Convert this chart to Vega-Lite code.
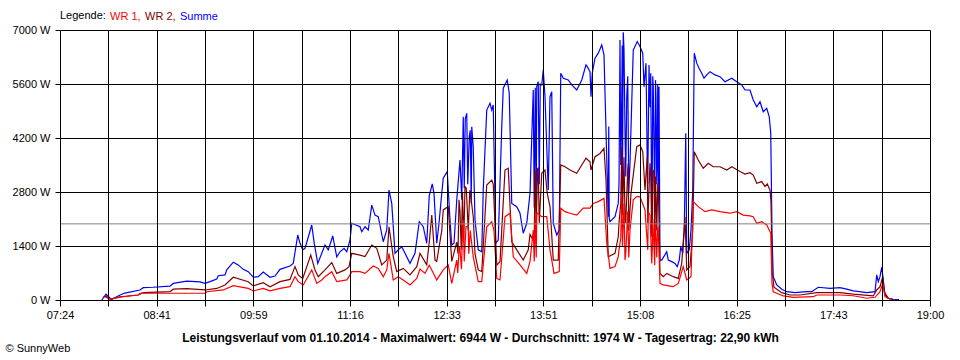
{
  "$schema": "https://vega.github.io/schema/vega-lite/v6.json",
  "width": 870,
  "height": 270,
  "autosize": {"type": "none"},
  "padding": {"left": 60, "top": 30, "right": 30, "bottom": 60},
  "background": "white",
  "config": {"view": {"stroke": null}, "font": "Liberation Sans"},
  "datasets": {
    "summe": [
      {"t":477.4,"p":0},{"t":480.8,"p":150},{"t":485.4,"p":10},{"t":492,"p":130},{"t":496,"p":180},{"t":508,"p":260},{"t":510.6,"p":320},{"t":518.4,"p":330},{"t":532,"p":360},{"t":534.6,"p":430},{"t":545.4,"p":490},{"t":556,"p":470},{"t":560,"p":430},{"t":564,"p":475},{"t":569.4,"p":545},{"t":570.6,"p":630},{"t":576,"p":650},{"t":577.4,"p":780},{"t":582.6,"p":980},{"t":586.6,"p":910},{"t":590.6,"p":795},{"t":594.6,"p":735},{"t":598.6,"p":590},{"t":602.6,"p":605},{"t":606.6,"p":725},{"t":612,"p":590},{"t":616,"p":620},{"t":620,"p":795},{"t":628,"p":880},{"t":630.6,"p":950},{"t":634.2,"p":1685},{"t":636,"p":1470},{"t":638.2,"p":1300},{"t":640,"p":1340},{"t":645.4,"p":1945},{"t":647.4,"p":1470},{"t":650.2,"p":950},{"t":653.4,"p":1210},{"t":656,"p":1425},{"t":658.6,"p":1300},{"t":662.2,"p":1660},{"t":665.4,"p":1120},{"t":668,"p":1250},{"t":671.2,"p":1340},{"t":673.4,"p":1250},{"t":676,"p":1555},{"t":677.4,"p":1990},{"t":684,"p":1900},{"t":685.4,"p":1770},{"t":688,"p":1900},{"t":690.6,"p":1815},{"t":693.4,"p":2460},{"t":696,"p":2200},{"t":698.6,"p":2160},{"t":702.6,"p":1510},{"t":705.4,"p":1815},{"t":707.2,"p":2850},{"t":709.4,"p":2505},{"t":712,"p":1210},{"t":714.6,"p":1300},{"t":717.4,"p":1380},{"t":720,"p":1210},{"t":724,"p":950},{"t":728,"p":1210},{"t":731.4,"p":2030},{"t":734.6,"p":1900},{"t":737.4,"p":1470},{"t":739.4,"p":2700},{"t":741.8,"p":3010},{"t":743.2,"p":2765},{"t":745.4,"p":1470},{"t":747.2,"p":1990},{"t":749.4,"p":2765},{"t":750.6,"p":3155},{"t":753.8,"p":3330},{"t":756,"p":2075},{"t":757.4,"p":1425},{"t":759.2,"p":1470},{"t":761.4,"p":2590},{"t":764,"p":3630},{"t":765.4,"p":2600},{"t":766.6,"p":4750},{"t":767.4,"p":2900},{"t":768.2,"p":4700},{"t":769.4,"p":4840},{"t":770.2,"p":3000},{"t":771.4,"p":4235},{"t":772.2,"p":4400},{"t":773,"p":2500},{"t":773.4,"p":4490},{"t":774.6,"p":3975},{"t":776,"p":2075},{"t":778.6,"p":1300},{"t":781.4,"p":1250},{"t":782.6,"p":2850},{"t":785.4,"p":4925},{"t":788,"p":5100},{"t":789.4,"p":4925},{"t":790.6,"p":5055},{"t":792.6,"p":1470},{"t":794.6,"p":1555},{"t":797.4,"p":4490},{"t":798.6,"p":5490},{"t":801.8,"p":5705},{"t":803.4,"p":5360},{"t":805.4,"p":2505},{"t":809.4,"p":2420},{"t":812,"p":2250},{"t":814.6,"p":1730},{"t":817.4,"p":1990},{"t":820,"p":2765},{"t":822.6,"p":5445},{"t":823.4,"p":2400},{"t":824.2,"p":5500},{"t":825,"p":2600},{"t":825.4,"p":5530},{"t":826,"p":5600},{"t":826.6,"p":5660},{"t":827.4,"p":3000},{"t":828.2,"p":5600},{"t":829.4,"p":5575},{"t":830.6,"p":5965},{"t":832,"p":5270},{"t":834.6,"p":2850},{"t":836,"p":5270},{"t":837.4,"p":5400},{"t":838.6,"p":1990},{"t":841.4,"p":1685},{"t":843.4,"p":1815},{"t":844.6,"p":5880},{"t":846.6,"p":5750},{"t":850.6,"p":5705},{"t":853.4,"p":5575},{"t":857.4,"p":5445},{"t":861.4,"p":5705},{"t":864.8,"p":6095},{"t":865.8,"p":6050},{"t":868,"p":5920},{"t":868.8,"p":5270},{"t":869.8,"p":5880},{"t":872,"p":6270},{"t":874.6,"p":6400},{"t":877.4,"p":6610},{"t":879.2,"p":6355},{"t":880.8,"p":4410},{"t":882.6,"p":2160},{"t":883,"p":4500},{"t":883.4,"p":2100},{"t":884,"p":2030},{"t":888,"p":2160},{"t":890.6,"p":2505},{"t":891.2,"p":3000},{"t":892,"p":6740},{"t":892.6,"p":3500},{"t":893.4,"p":5270},{"t":893.8,"p":6600},{"t":894,"p":3000},{"t":894.6,"p":6944},{"t":895.2,"p":6500},{"t":896,"p":4410},{"t":896.6,"p":3200},{"t":897.4,"p":5270},{"t":898.2,"p":5800},{"t":899,"p":2800},{"t":900,"p":3545},{"t":902.6,"p":6480},{"t":905.8,"p":6700},{"t":908,"p":6570},{"t":910.2,"p":6400},{"t":911.2,"p":5530},{"t":912.8,"p":6140},{"t":913.8,"p":3545},{"t":914.2,"p":3000},{"t":915.2,"p":6095},{"t":916,"p":5000},{"t":916.6,"p":5880},{"t":917.4,"p":1815},{"t":917.8,"p":3000},{"t":918.2,"p":5800},{"t":918.6,"p":5530},{"t":919.2,"p":3975},{"t":919.8,"p":2500},{"t":920.4,"p":5700},{"t":920.8,"p":5270},{"t":921.4,"p":3000},{"t":921.8,"p":3545},{"t":922.2,"p":5600},{"t":922.8,"p":2600},{"t":923.2,"p":5530},{"t":924,"p":1035},{"t":925.4,"p":1035},{"t":929.4,"p":1250},{"t":930.6,"p":1035},{"t":933.4,"p":995},{"t":936,"p":950},{"t":937.8,"p":865},{"t":939.4,"p":1035},{"t":940.6,"p":1380},{"t":942.2,"p":1210},{"t":943.4,"p":1815},{"t":944.6,"p":4320},{"t":945.4,"p":1210},{"t":947.4,"p":1300},{"t":948.8,"p":1815},{"t":950.2,"p":2850},{"t":951.4,"p":6400},{"t":953.4,"p":6140},{"t":955.2,"p":6010},{"t":957.4,"p":5880},{"t":959.2,"p":5750},{"t":961.4,"p":5835},{"t":964,"p":5920},{"t":968,"p":5835},{"t":972,"p":5790},{"t":976,"p":5660},{"t":981.4,"p":5750},{"t":985.4,"p":5660},{"t":989.4,"p":5575},{"t":992,"p":5445},{"t":996,"p":5445},{"t":998.6,"p":5185},{"t":1001.4,"p":5010},{"t":1004,"p":5140},{"t":1006.6,"p":4880},{"t":1009.4,"p":4970},{"t":1011.4,"p":4750},{"t":1012.6,"p":4320},{"t":1013.6,"p":1730},{"t":1014.6,"p":605},{"t":1017.4,"p":390},{"t":1021.4,"p":280},{"t":1025.4,"p":215},{"t":1032,"p":190},{"t":1041.4,"p":215},{"t":1045.4,"p":215},{"t":1050.6,"p":330},{"t":1060,"p":300},{"t":1068,"p":320},{"t":1073.4,"p":280},{"t":1078.6,"p":235},{"t":1089.4,"p":190},{"t":1096,"p":215},{"t":1097.4,"p":650},{"t":1098.6,"p":475},{"t":1100,"p":605},{"t":1101.4,"p":850},{"t":1102.6,"p":520},{"t":1104,"p":130},{"t":1106.6,"p":45},{"t":1110.6,"p":20},{"t":1115.2,"p":10}
    ],
    "wr2": [
      {"t":478.6,"p":70},{"t":480.8,"p":105},{"t":484,"p":25},{"t":492,"p":85},{"t":506.6,"p":130},{"t":510.6,"p":190},{"t":532,"p":215},{"t":534.6,"p":280},{"t":545.4,"p":295},{"t":560,"p":260},{"t":569.4,"p":300},{"t":576,"p":390},{"t":582.6,"p":590},{"t":594.6,"p":475},{"t":598.6,"p":365},{"t":606.6,"p":450},{"t":612,"p":345},{"t":620,"p":475},{"t":628,"p":535},{"t":632,"p":865},{"t":634.6,"p":650},{"t":638.2,"p":560},{"t":644.6,"p":1165},{"t":648,"p":780},{"t":650.6,"p":605},{"t":656,"p":780},{"t":661.4,"p":970},{"t":665.4,"p":690},{"t":672,"p":780},{"t":675.2,"p":865},{"t":677.4,"p":1210},{"t":684,"p":1165},{"t":688,"p":1125},{"t":693.4,"p":1425},{"t":697.4,"p":1340},{"t":701.4,"p":910},{"t":705.4,"p":1035},{"t":707.2,"p":1900},{"t":710.6,"p":1125},{"t":713.4,"p":735},{"t":718.6,"p":820},{"t":724,"p":650},{"t":729.4,"p":865},{"t":732,"p":1210},{"t":737.4,"p":910},{"t":739.4,"p":1500},{"t":741.4,"p":2200},{"t":744,"p":1035},{"t":745.4,"p":1000},{"t":749.4,"p":1800},{"t":750.6,"p":2335},{"t":754.6,"p":2420},{"t":757.4,"p":1000},{"t":761.4,"p":1500},{"t":762.4,"p":1200},{"t":763.2,"p":2600},{"t":764,"p":2300},{"t":765,"p":1300},{"t":766,"p":2800},{"t":767,"p":1500},{"t":768,"p":2940},{"t":769,"p":2900},{"t":770.6,"p":1800},{"t":771.8,"p":2800},{"t":772,"p":2850},{"t":774.6,"p":2160},{"t":776,"p":1200},{"t":778.6,"p":780},{"t":781.4,"p":735},{"t":785.4,"p":2980},{"t":789.4,"p":3110},{"t":790.6,"p":3000},{"t":793.4,"p":900},{"t":796,"p":1000},{"t":800,"p":3370},{"t":802.6,"p":3415},{"t":805.4,"p":1510},{"t":809.4,"p":1300},{"t":814.6,"p":1035},{"t":818.6,"p":1300},{"t":820,"p":1700},{"t":823.4,"p":1500},{"t":824,"p":3370},{"t":824.2,"p":3300},{"t":825,"p":1800},{"t":826,"p":3400},{"t":826.6,"p":3415},{"t":827.4,"p":2000},{"t":829.4,"p":3285},{"t":832,"p":3370},{"t":833.8,"p":2765},{"t":836,"p":2420},{"t":838.6,"p":1035},{"t":842.6,"p":1035},{"t":844.6,"p":3500},{"t":848,"p":3455},{"t":852,"p":3370},{"t":857.4,"p":3285},{"t":861.4,"p":3500},{"t":864.8,"p":3675},{"t":868,"p":3585},{"t":868.8,"p":3370},{"t":872,"p":3715},{"t":876,"p":3800},{"t":879.2,"p":3930},{"t":880.8,"p":3110},{"t":882.6,"p":1120},{"t":888,"p":1210},{"t":890.6,"p":1640},{"t":891.2,"p":2000},{"t":892.6,"p":2500},{"t":893.4,"p":3975},{"t":894,"p":2200},{"t":895.2,"p":3700},{"t":896,"p":2160},{"t":896.6,"p":2000},{"t":898.2,"p":3400},{"t":898.6,"p":3545},{"t":899,"p":1800},{"t":900.8,"p":2765},{"t":905.4,"p":3975},{"t":908,"p":4020},{"t":910.2,"p":3845},{"t":912,"p":2850},{"t":913.8,"p":3715},{"t":914.2,"p":2000},{"t":916,"p":3545},{"t":916.6,"p":3300},{"t":917.4,"p":1640},{"t":917.8,"p":2000},{"t":918.2,"p":3300},{"t":919.2,"p":3370},{"t":919.8,"p":1500},{"t":920.4,"p":3200},{"t":920.8,"p":2680},{"t":921.4,"p":1800},{"t":922.2,"p":3000},{"t":922.6,"p":3025},{"t":924,"p":690},{"t":926.6,"p":605},{"t":929.4,"p":690},{"t":934.6,"p":605},{"t":938.6,"p":560},{"t":941.4,"p":950},{"t":944,"p":2160},{"t":945.4,"p":780},{"t":948,"p":865},{"t":950.2,"p":1815},{"t":951.4,"p":3845},{"t":954.6,"p":3630},{"t":958.6,"p":3415},{"t":962.6,"p":3545},{"t":966.6,"p":3455},{"t":972,"p":3455},{"t":977.4,"p":3370},{"t":981.4,"p":3455},{"t":988,"p":3330},{"t":992,"p":3265},{"t":996,"p":3300},{"t":998.6,"p":3240},{"t":1001.4,"p":3025},{"t":1005.4,"p":3070},{"t":1008,"p":2940},{"t":1009.8,"p":3010},{"t":1012,"p":2850},{"t":1012.8,"p":2550},{"t":1013.8,"p":700},{"t":1015.2,"p":330},{"t":1021.4,"p":190},{"t":1028,"p":130},{"t":1036,"p":130},{"t":1049.4,"p":190},{"t":1068,"p":190},{"t":1078.6,"p":150},{"t":1094.6,"p":105},{"t":1097.4,"p":260},{"t":1100,"p":345},{"t":1102.2,"p":605},{"t":1103.4,"p":215},{"t":1106.6,"p":45},{"t":1110.6,"p":10}
    ],
    "wr1": [
      {"t":480,"p":85},{"t":484,"p":20},{"t":494.6,"p":85},{"t":506.6,"p":130},{"t":508,"p":175},{"t":560,"p":175},{"t":561.4,"p":215},{"t":574.6,"p":260},{"t":582.6,"p":370},{"t":594.6,"p":300},{"t":598.6,"p":235},{"t":606.6,"p":300},{"t":612,"p":235},{"t":620,"p":300},{"t":628,"p":345},{"t":632,"p":605},{"t":634.6,"p":475},{"t":638.6,"p":390},{"t":645.4,"p":780},{"t":649.4,"p":430},{"t":653.4,"p":520},{"t":656,"p":605},{"t":661.4,"p":735},{"t":665.4,"p":475},{"t":673.4,"p":520},{"t":675.2,"p":605},{"t":677.4,"p":735},{"t":684,"p":735},{"t":688,"p":690},{"t":694.6,"p":880},{"t":698.6,"p":820},{"t":702.6,"p":605},{"t":705.4,"p":780},{"t":707.2,"p":1210},{"t":710.6,"p":520},{"t":714.6,"p":605},{"t":718.6,"p":520},{"t":724,"p":390},{"t":729.4,"p":560},{"t":732,"p":800},{"t":736,"p":690},{"t":739.4,"p":900},{"t":741.4,"p":780},{"t":745.4,"p":520},{"t":750.6,"p":780},{"t":754.6,"p":910},{"t":757.4,"p":430},{"t":761.4,"p":1035},{"t":762.2,"p":700},{"t":763.4,"p":1400},{"t":764,"p":1300},{"t":765.2,"p":800},{"t":766.2,"p":2000},{"t":766.6,"p":2075},{"t":767.4,"p":1000},{"t":768.8,"p":1900},{"t":770.6,"p":1900},{"t":771,"p":1200},{"t":772.2,"p":1800},{"t":774.6,"p":1120},{"t":778.6,"p":475},{"t":781.4,"p":475},{"t":785.4,"p":1900},{"t":789.4,"p":2030},{"t":791.2,"p":1800},{"t":793.4,"p":560},{"t":796,"p":520},{"t":800,"p":2160},{"t":804,"p":2250},{"t":806.6,"p":1120},{"t":812,"p":910},{"t":817.4,"p":690},{"t":820,"p":1000},{"t":822.6,"p":1815},{"t":823.4,"p":1000},{"t":824.2,"p":2200},{"t":825,"p":1100},{"t":825.4,"p":2250},{"t":826,"p":2250},{"t":829.4,"p":2160},{"t":833.4,"p":2160},{"t":836,"p":1300},{"t":839.2,"p":690},{"t":843.4,"p":735},{"t":844.6,"p":2380},{"t":848,"p":2290},{"t":852,"p":2250},{"t":857.4,"p":2200},{"t":862.6,"p":2380},{"t":868,"p":2380},{"t":870.6,"p":2505},{"t":874.6,"p":2550},{"t":879.2,"p":2635},{"t":881.4,"p":1470},{"t":884,"p":820},{"t":888,"p":865},{"t":890.6,"p":1120},{"t":891.2,"p":1300},{"t":892.6,"p":1600},{"t":893.4,"p":2765},{"t":894,"p":1400},{"t":895.2,"p":2500},{"t":896,"p":1035},{"t":896.6,"p":1200},{"t":898.2,"p":2300},{"t":899,"p":1100},{"t":900,"p":1815},{"t":902.6,"p":2595},{"t":905.4,"p":2680},{"t":908,"p":2680},{"t":912,"p":2335},{"t":914.2,"p":1300},{"t":914.6,"p":2290},{"t":916,"p":2200},{"t":917.4,"p":950},{"t":917.8,"p":1300},{"t":918.2,"p":2100},{"t":919.8,"p":900},{"t":920,"p":1990},{"t":920.4,"p":2000},{"t":921.4,"p":1100},{"t":922.2,"p":1900},{"t":922.6,"p":1815},{"t":924,"p":430},{"t":926.6,"p":390},{"t":934.6,"p":345},{"t":938.6,"p":430},{"t":942.6,"p":865},{"t":945.4,"p":520},{"t":948.8,"p":605},{"t":950.6,"p":2550},{"t":954.6,"p":2420},{"t":960,"p":2290},{"t":965.4,"p":2335},{"t":972,"p":2290},{"t":980,"p":2250},{"t":985.4,"p":2290},{"t":990.6,"p":2200},{"t":996,"p":2180},{"t":998.6,"p":2160},{"t":1001.4,"p":1990},{"t":1005.4,"p":2030},{"t":1009.4,"p":1945},{"t":1012.6,"p":1730},{"t":1013.6,"p":430},{"t":1014.6,"p":215},{"t":1022.6,"p":105},{"t":1030.6,"p":70},{"t":1046.6,"p":85},{"t":1049.4,"p":130},{"t":1068,"p":130},{"t":1078.6,"p":110},{"t":1089.4,"p":45},{"t":1096,"p":70},{"t":1100,"p":215},{"t":1102.2,"p":430},{"t":1104,"p":85},{"t":1108,"p":20}
    ],
    "avg": [{"p": 1974}]
  },
  "encoding": {
    "y": {
      "field": "p",
      "type": "quantitative",
      "scale": {"domain": [0, 7000], "nice": false, "zero": true},
      "axis": {
        "values": [0, 1400, 2800, 4200, 5600, 7000],
        "labelExpr": "datum.value + ' W'",
        "grid": true, "gridColor": "#000000", "gridOpacity": 1, "gridWidth": 1,
        "domain": false, "ticks": true, "tickSize": 5, "tickColor": "#000000",
        "labelFont": "Liberation Sans", "labelFontSize": 11, "labelColor": "#000000", "labelPadding": 5,
        "labelFlush": false, "labelOverlap": false,
        "title": "© SunnyWeb", "titleAngle": 0, "titleX": -55, "titleY": 318, "titleAlign": "left", "titleBaseline": "middle",
        "titleFont": "Liberation Sans", "titleFontSize": 11, "titleFontWeight": "normal", "titleColor": "#000000",
        "zindex": 1
      }
    }
  },
  "layer": [
    {
      "data": {"name": "summe"},
      "mark": {"type": "line", "strokeWidth": 1.2},
      "encoding": {
        "x": {
          "field": "t",
          "type": "quantitative",
          "scale": {"domain": [444, 1140], "nice": false, "zero": false},
          "axis": {
            "values": [444, 482.6667, 521.3333, 560, 598.6667, 637.3333, 676, 714.6667, 753.3333, 792, 830.6667, 869.3333, 908, 946.6667, 985.3333, 1024, 1062.6667, 1101.3333, 1140],
            "labelExpr": "(round((datum.value-444)/38.6667) % 2 == 1) ? '' : ((floor(round(datum.value)/60) < 10 ? '0' : '') + floor(round(datum.value)/60) + ':' + (round(datum.value) % 60 < 10 ? '0' : '') + (round(datum.value) % 60))",
            "grid": true, "gridColor": "#000000", "gridOpacity": 1, "gridWidth": 1,
            "domain": false, "ticks": true, "tickSize": 6, "tickColor": "#000000",
            "labelFont": "Liberation Sans", "labelFontSize": 11, "labelColor": "#000000", "labelPadding": 3,
            "labelFlush": false, "labelOverlap": false,
            "title": "Leistungsverlauf vom 01.10.2014 - Maximalwert: 6944 W - Durchschnitt: 1974 W - Tagesertrag: 22,90 kWh",
            "titleX": 420, "titleY": 37, "titleAlign": "center", "titleBaseline": "middle",
            "titleFont": "Liberation Sans", "titleFontSize": 12, "titleFontWeight": "bold", "titleColor": "#000000",
            "zindex": 1
          }
        },
        "color": {
          "datum": "Summe",
          "scale": {"domain": ["WR 1", "WR 2", "Summe"], "range": ["#ff0000", "#800000", "#0000ff"]},
          "legend": {
            "orient": "none", "legendX": 0, "legendY": -19, "direction": "horizontal",
            "title": "Legende:", "titleOrient": "left", "titleFontWeight": "normal", "titleFontSize": 11,
            "titleColor": "#000000", "titleFont": "Liberation Sans", "titlePadding": 3,
            "symbolSize": 0, "symbolStrokeWidth": 0, "symbolOpacity": 0, "labelOffset": -10, "columnPadding": 3,
            "labelFontSize": 11, "labelFont": "Liberation Sans",
            "labelExpr": "datum.label == 'Summe' ? datum.label : datum.label + ','",
            "encode": {"labels": {"update": {"fill": {"scale": "color", "field": "value"}}}}
          }
        }
      }
    },
    {
      "data": {"name": "wr2"},
      "mark": {"type": "line", "strokeWidth": 1.2},
      "encoding": {
        "x": {"field": "t", "type": "quantitative"},
        "color": {"datum": "WR 2"}
      }
    },
    {
      "data": {"name": "wr1"},
      "mark": {"type": "line", "strokeWidth": 1.2},
      "encoding": {
        "x": {"field": "t", "type": "quantitative"},
        "color": {"datum": "WR 1"}
      }
    },
    {
      "data": {"name": "avg"},
      "mark": {"type": "rule", "color": "#808080", "strokeWidth": 1},
      "encoding": {}
    }
  ]
}
